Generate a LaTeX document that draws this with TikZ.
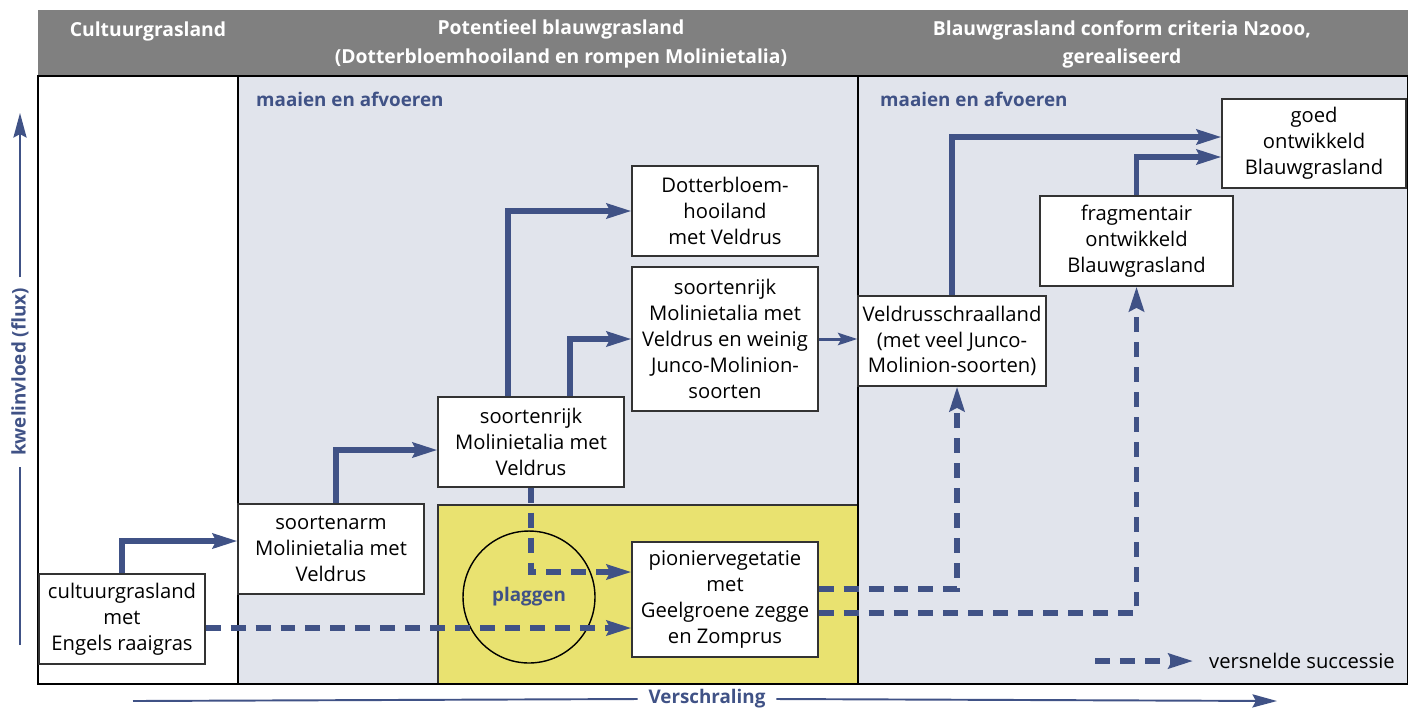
\documentclass[tikz,border=0pt]{standalone}
\usepackage{fontspec}
\setmainfont{Open Sans}
\usetikzlibrary{arrows.meta}
\definecolor{kwelblauw}{RGB}{64,82,134}
\definecolor{vlak}{RGB}{225,228,236}
\definecolor{plaggeel}{RGB}{233,226,112}
\definecolor{kopgrijs}{RGB}{128,128,128}
\begin{document}
\begin{tikzpicture}[x=0.02cm,y=-0.02cm,
        vak/.style={draw=black!80,fill=white,line width=0.8pt,align=center,inner sep=1pt,
            font=\fontsize{11.5}{14.7}\selectfont,minimum width=3.72cm,minimum height=1.8cm},
        kop/.style={text=white,align=center,font=\fontsize{11}{16}\selectfont\bfseries},
        actie/.style={text=kwelblauw,font=\fontsize{10.7}{14}\selectfont\bfseries},
        pijl/.style={draw=kwelblauw,line width=2.9pt,-{Stealth[length=14pt,width=8.5pt,inset=2pt]}},
        dunpijl/.style={draw=kwelblauw,line width=1.7pt,-{Stealth[length=11pt,width=7pt,inset=2pt]}},
        snel/.style={pijl,dash pattern=on 8.5pt off 5.7pt},
        aslijn/.style={draw=kwelblauw,line width=1.1pt},
        as/.style={aslijn,-{Stealth[length=14pt,width=7.5pt,inset=2pt]}}]

        \useasboundingbox (0,0) rectangle (1408,711);
        \fill[kopgrijs] (38,10) rectangle (1408,76);
        \fill[vlak] (238,76) rectangle (1408,684);
        \filldraw[fill=plaggeel,draw=black!80,line width=0.8pt] (438,505) rectangle (858,684);
        \draw[line width=1pt] (38,76) rectangle (1408,684);
        \draw[line width=1pt] (238,76) -- (238,684); \draw[line width=1pt] (858,76) -- (858,684);

        \node[kop] (kcult) at (148,31) {Cultuurgrasland};
        \node[kop] (kpot) at (561,44) {Potentieel blauwgrasland\\(Dotterbloemhooiland en rompen Molinietalia)};
        \node[kop] (kn2000) at (1122,44) {Blauwgrasland conform criteria N{\addfontfeature{Numbers=OldStyle}2000},\\gerealiseerd};

        \node[actie,anchor=west] (maai1) at (250,99) {maaien en afvoeren};
        \node[actie,anchor=west] (maai2) at (874,99) {maaien en afvoeren};

        \node[draw,circle,line width=0.8pt,minimum size=2.64cm,actie] (plaggen) at (529,597) {plaggen};

        \node[vak,minimum width=3.32cm] (cult) at (122,619) {cultuurgrasland\\met\\Engels raaigras};
        \node[vak] (arm) at (331,549) {soortenarm\\Molinietalia met\\Veldrus};
        \node[vak] (rijk) at (531,442) {soortenrijk\\Molinietalia met\\Veldrus};
        \node[vak] (dotter) at (725,211) {Dotterbloem-\\hooiland\\met Veldrus};
        \node[vak,minimum height=2.88cm] (rijkjunco) at (725,339) {soortenrijk\\Molinietalia met\\Veldrus en weinig\\Junco-Molinion-\\soorten};
        \node[vak,minimum height=2.3cm] (pionier) at (725,599.5) {pioniervegetatie\\met\\Geelgroene zegge\\en Zomprus};
        \node[vak,minimum width=3.76cm] (veld) at (952,341) {Veldrusschraalland\\(met veel Junco-\\Molinion-soorten)};
        \node[vak,minimum width=3.86cm] (frag) at (1136.5,241) {fragmentair\\ontwikkeld\\Blauwgrasland};
        \node[vak,minimum width=3.68cm,minimum height=1.78cm] (goed) at (1314,143.5) {goed\\ontwikkeld\\Blauwgrasland};

        \coordinate (armin) at ([yshift=0.16cm]arm.west);
        \coordinate (rijkin) at ([yshift=-0.16cm]rijk.west);
        \coordinate (dotteruit) at ([xshift=-0.46cm]rijk.north);
        \coordinate (junco) at ([xshift=0.78cm]rijk.north);
        \coordinate (goedhoog) at ([yshift=0.13cm]goed.west);
        \coordinate (goedlaag) at ([yshift=-0.27cm]goed.west);
        \draw[pijl] (cult.north) |- (armin);
        \draw[pijl] ([xshift=0.1cm]arm.north) |- (rijkin);
        \draw[pijl] (dotteruit) |- (dotter.west);
        \draw[pijl] (junco) |- (rijkjunco.west);
        \draw[dunpijl] (rijkjunco.east) -- (rijkjunco.east -| veld.west);
        \draw[pijl] (veld.north) |- (goedhoog);
        \draw[pijl] (frag.north) |- (goedlaag);

        \coordinate (cultuit) at ([yshift=-0.18cm]cult.east);
        \coordinate (pionhoog) at ([yshift=0.55cm]pionier.west);
        \coordinate (pionveld) at ([yshift=0.21cm]pionier.east);
        \coordinate (pionfrag) at ([yshift=-0.27cm]pionier.east);
        \draw[snel] (cultuit) -- (cultuit -| pionier.west);
        \draw[snel] (rijk.south) |- (pionhoog);
        \draw[snel] (pionveld) -| ([xshift=0.1cm]veld.south);
        \draw[snel] (pionfrag) -| (frag.south);

        \node[anchor=west,font=\fontsize{11.5}{14}\selectfont] (legenda) at (1203,661) {versnelde successie};
        \draw[snel] ([xshift=-2.16cm]legenda.west) -- ([xshift=-0.2cm]legenda.west);

        \node[actie,rotate=90,inner xsep=6pt] (kwel) at (20,372) {kwelinvloed (flux)};
        \coordinate (kwelvoet) at (20,645); \coordinate (kweltop) at (20,113);
        \draw[aslijn] (kwelvoet) -- (kwel.west);
        \draw[as] (kwel.east) -- (kweltop);

        \node[actie,inner xsep=6pt] (schraal) at (707,699) {Verschraling};
        \coordinate (schraalbegin) at (133,701); \coordinate (schraaleind) at (1277,701);
        \draw[aslijn] (schraalbegin) -- (schraal.west);
        \draw[as] (schraal.east) -- (schraaleind);

    \end{tikzpicture}
\end{document}
